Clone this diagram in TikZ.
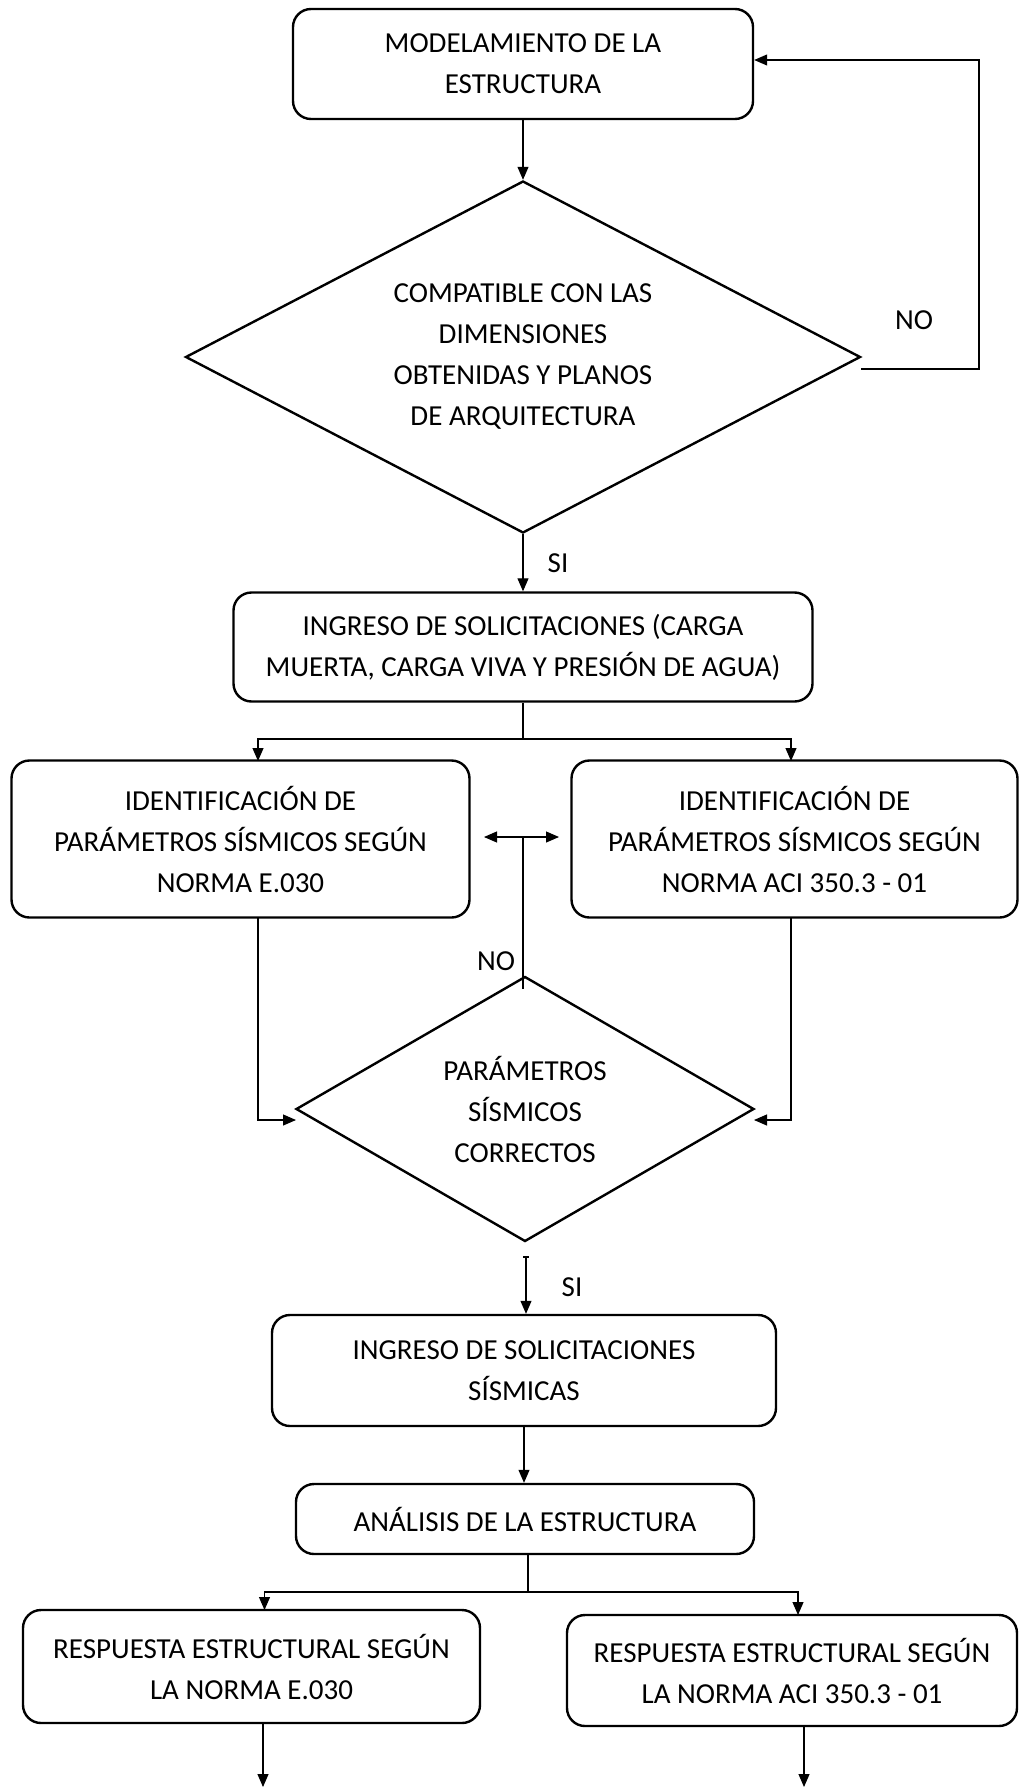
\documentclass[tikz,border=0pt]{standalone}
\usepackage{fontspec}
\setmainfont{Carlito}
\usetikzlibrary{shapes.geometric,arrows.meta}
\begin{document}
\begin{tikzpicture}[x=1pt,y=-1pt,
  txt/.style={font=\fontsize{29}{41}\selectfont},
  box/.style={draw, line width=2.4pt, rounded corners=18pt, align=center, inner sep=0pt, txt},
  dec/.style={draw, diamond, line width=2.4pt, align=center, inner sep=0pt, txt},
  conn/.style={line width=1.1pt},
  arr/.style={conn, -{Triangle[length=13pt,width=11pt]}},
  darr/.style={conn, {Triangle[length=13pt,width=11pt]}-{Triangle[length=13pt,width=11pt]}},
  lbl/.style={txt, inner sep=0pt}]
\useasboundingbox (0,0) rectangle (1019,1787);

\node[box, minimum width=460pt, minimum height=110pt] (b1) at (523,64) {MODELAMIENTO DE LA\\ESTRUCTURA};
\node[dec, shape aspect=1.92, minimum width=675pt, minimum height=352pt] (d1) at (523,357) {COMPATIBLE CON LAS\\DIMENSIONES\\OBTENIDAS Y PLANOS\\DE ARQUITECTURA};
\node[box, minimum width=579pt, minimum height=109pt] (b2) at (523,647) {INGRESO DE SOLICITACIONES (CARGA\\MUERTA, CARGA VIVA Y PRESIÓN DE AGUA)};
\node[box, minimum width=458pt, minimum height=157pt] (b3) at (240.5,839) {IDENTIFICACIÓN DE\\PARÁMETROS SÍSMICOS SEGÚN\\NORMA E.030};
\node[box, minimum width=446pt, minimum height=157pt] (b4) at (794.5,839) {IDENTIFICACIÓN DE\\PARÁMETROS SÍSMICOS SEGÚN\\NORMA ACI 350.3 - 01};
\node[dec, shape aspect=1.73, minimum width=458pt, minimum height=265pt] (d2) at (525,1109) {PARÁMETROS\\SÍSMICOS\\CORRECTOS};
\node[box, minimum width=504pt, minimum height=111pt] (b5) at (524,1370.5) {INGRESO DE SOLICITACIONES\\SÍSMICAS};
\node[box, minimum width=458pt, minimum height=70pt] (b6) at (525,1519) {ANÁLISIS DE LA ESTRUCTURA};
\node[box, minimum width=457pt, minimum height=113pt] (b7) at (251.5,1666.5) {RESPUESTA ESTRUCTURAL SEGÚN\\LA NORMA E.030};
\node[box, minimum width=450pt, minimum height=111pt] (b8) at (792,1670.5) {RESPUESTA ESTRUCTURAL SEGÚN\\LA NORMA ACI 350.3 - 01};

% labels
\node[lbl] (no1) at (914,320) {NO};
\node[lbl] (si1) at (558,563) {SI};
\node[lbl] (no2) at (496,961) {NO};
\node[lbl] (si2l) at (572,1287) {SI};

% coordinates
\coordinate (n1) at (861,369);
\coordinate (b1e) at ([yshift=4pt]b1.east);
\coordinate (j1) at (523,739);
\coordinate (t3) at (258,761);
\coordinate (t4) at (791,761);
\coordinate (dl) at (484,837);
\coordinate (dr) at (559,837);
\coordinate (dm) at (523,837);
\coordinate (nv) at (523,989);
\coordinate (s3) at (258,918);
\coordinate (l2) at (296,1120);
\coordinate (s4) at (791,918);
\coordinate (r2) at (754,1120);
\coordinate (si2) at (526,1257);
\coordinate (j2) at (528,1592);
\coordinate (t7) at (264.5,1610);
\coordinate (t8) at (798,1615);
\coordinate (s7) at (263,1723);
\coordinate (e7) at (263,1787);
\coordinate (s8) at (804,1726);
\coordinate (e8) at (804,1787);

% connectors
\draw[arr] (b1.south) -- (d1.north);
\draw[arr] (n1) -- (979,369) |- (b1e);
\draw[arr] (d1.south) -- (b2.north);
\draw[conn] (b2.south) -- (j1);
\draw[arr] (j1) -| (t3);
\draw[arr] (j1) -| (t4);
\draw[darr] (dl) -- (dr);
\draw[conn] (dm) -- (nv);
\draw[arr] (s3) |- (l2);
\draw[arr] (s4) |- (r2);
\draw[conn] ([xshift=-3pt]si2) -- ([xshift=3pt]si2);
\draw[arr] (si2) -- (si2 |- b5.north);
\draw[arr] (b5.south) -- (b5.south |- b6.north);
\draw[conn] (j2 |- b6.south) -- (j2);
\draw[arr] (j2) -| (t7);
\draw[arr] (j2) -| (t8);
\draw[arr] (s7) -- (e7);
\draw[arr] (s8) -- (e8);
\end{tikzpicture}
\end{document}
